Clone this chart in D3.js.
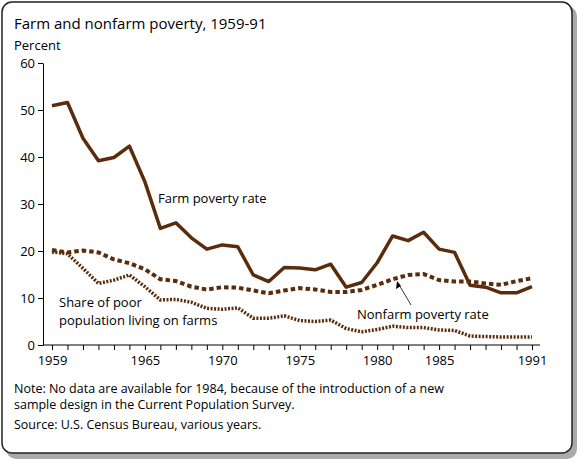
<!DOCTYPE html>
<html><head><meta charset="utf-8">
<script src="https://cdn.jsdelivr.net/npm/d3@7"></script>
<style>body{margin:0;background:#fff}text{font-family:"Open Sans",sans-serif}</style>
</head><body><svg id="c" width="581" height="462"></svg>
<script>
// 1984 has no data: points are placed by index
const years = [1959,1960,1961,1962,1963,1964,1965,1966,1967,1968,1969,1970,1971,1972,1973,1974,1975,1976,1977,1978,1979,1980,1981,1982,1983,1985,1986,1987,1988,1989,1990,1991];
const farm = [50.9,51.6,44,39.2,39.9,42.3,34.7,24.8,26,22.8,20.4,21.3,20.9,14.9,13.5,16.5,16.4,16.0,17.2,12.3,13.3,17.5,23.2,22.2,24,20.4,19.7,12.7,12.3,11.1,11.1,12.4];
const nonfarm = [20.2,19.7,20.1,19.7,18.2,17.4,16.1,14,13.6,12.4,11.8,12.3,12.2,11.6,11,11.6,12.1,11.8,11.3,11.3,11.7,12.8,14,14.9,15.1,13.8,13.5,13.5,13.1,12.8,13.6,14.2];
const share = [19.8,19.4,16.3,13.1,13.8,14.9,12.4,9.6,9.7,9.1,7.8,7.6,7.9,5.7,5.7,6.2,5.2,5.0,5.3,3.5,2.8,3.3,4.0,3.7,3.7,3.2,3.1,1.9,1.8,1.7,1.7,1.7];
const yTicks = [0,10,20,30,40,50,60];
const xLabels = [1959,1965,1970,1975,1980,1985,1991];

const svg = d3.select("#c");
const col = "#5b2c0c";

// frame with shadow
svg.append("rect").attr("x",6).attr("y",6).attr("width",571).attr("height",453).attr("rx",10).attr("fill","#aaa");
svg.append("rect").attr("x",2).attr("y",2).attr("width",570).attr("height",451).attr("rx",10)
  .attr("fill","#fff").attr("stroke","#222").attr("stroke-width",1.5);

const x = d3.scaleLinear().domain([0, years.length - 1]).range([52, 532]);
const y = d3.scaleLinear().domain([0, 60]).range([345, 63]);

svg.append("text").attr("x",14).attr("y",29).attr("font-size",15).text("Farm and nonfarm poverty, 1959-91");
svg.append("text").attr("x",14).attr("y",50).attr("font-size",13).text("Percent");

// y axis
const ya = svg.append("g").attr("transform","translate(43,0)")
  .call(d3.axisLeft(y).tickValues(yTicks).tickSize(5).tickSizeOuter(0));
ya.selectAll("text").attr("font-size",13).attr("font-family","Open Sans").attr("fill","#000");
ya.select(".domain").attr("stroke","#000");

// x axis: ticks at every index
const xa = svg.append("g").attr("transform","translate(0,345)")
  .call(d3.axisBottom(x).tickValues(d3.range(years.length)).tickSize(5)
    .tickFormat(i => xLabels.includes(years[i]) ? years[i] : ""));
xa.select(".domain").attr("d","M43,0H540").attr("stroke","#000");
xa.selectAll("text").attr("font-size",13).attr("font-family","Open Sans").attr("fill","#000").attr("dy","0.9em");

const line = d3.line().x((d,i) => x(i)).y(d => y(d));
svg.append("path").datum(share).attr("d",line).attr("fill","none").attr("stroke",col)
  .attr("stroke-width",3.5).attr("stroke-dasharray","2 1.5");
svg.append("path").datum(nonfarm).attr("d",line).attr("fill","none").attr("stroke",col)
  .attr("stroke-width",4).attr("stroke-dasharray","4.5 3");
svg.append("path").datum(farm).attr("d",line).attr("fill","none").attr("stroke",col)
  .attr("stroke-width",3.5).attr("stroke-linejoin","round");

svg.append("text").attr("x",158).attr("y",203).attr("font-size",13).text("Farm poverty rate");
svg.append("text").attr("x",59).attr("y",307).attr("font-size",13).text("Share of poor");
svg.append("text").attr("x",59).attr("y",325).attr("font-size",13).text("population living on farms");
svg.append("text").attr("x",357).attr("y",319).attr("font-size",13).text("Nonfarm poverty rate");
svg.append("line").attr("x1",411).attr("y1",305).attr("x2",398).attr("y2",283).attr("stroke","#000").attr("stroke-width",0.8);
svg.append("path").attr("d","M397,281 L396,289 L401,286 Z").attr("fill","#000");

svg.append("text").attr("x",14).attr("y",393).attr("font-size",12.5)
  .text("Note: No data are available for 1984, because of the introduction of a new");
svg.append("text").attr("x",14).attr("y",409).attr("font-size",12.5)
  .text("sample design in the Current Population Survey.");
svg.append("text").attr("x",14).attr("y",429).attr("font-size",12.5).text("Source:  U.S. Census Bureau, various years.");
</script></body></html>
